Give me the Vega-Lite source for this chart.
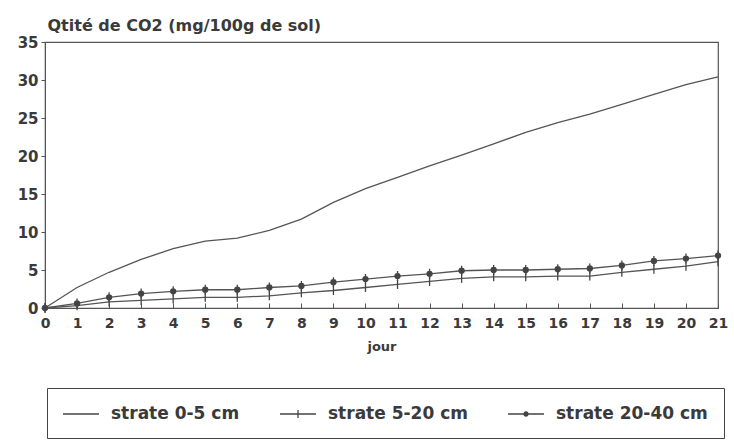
{
  "$schema": "https://vega.github.io/schema/vega-lite/v6.json",
  "width": 673,
  "height": 266,
  "autosize": {"type": "none"},
  "padding": {"left": 45, "top": 42, "right": 16, "bottom": 137},
  "background": "white",
  "config": {
    "view": {"stroke": "#555", "strokeWidth": 1.2},
    "font": "DejaVu Sans",
    "axis": {"grid": false, "domainColor": "#555", "tickColor": "#555", "labelColor": "#3a3a3a", "titleColor": "#3a3a3a", "labelFont": "DejaVu Sans", "labelFontWeight": "bold", "titleFont": "DejaVu Sans", "titleFontWeight": "bold"}
  },
  "data": {
    "values": [
      {"day": 0, "series": "strate 0-5 cm", "co2": 0},
      {"day": 1, "series": "strate 0-5 cm", "co2": 2.7},
      {"day": 2, "series": "strate 0-5 cm", "co2": 4.7},
      {"day": 3, "series": "strate 0-5 cm", "co2": 6.4},
      {"day": 4, "series": "strate 0-5 cm", "co2": 7.8},
      {"day": 5, "series": "strate 0-5 cm", "co2": 8.8},
      {"day": 6, "series": "strate 0-5 cm", "co2": 9.2},
      {"day": 7, "series": "strate 0-5 cm", "co2": 10.2},
      {"day": 8, "series": "strate 0-5 cm", "co2": 11.7},
      {"day": 9, "series": "strate 0-5 cm", "co2": 13.9},
      {"day": 10, "series": "strate 0-5 cm", "co2": 15.7},
      {"day": 11, "series": "strate 0-5 cm", "co2": 17.2},
      {"day": 12, "series": "strate 0-5 cm", "co2": 18.7},
      {"day": 13, "series": "strate 0-5 cm", "co2": 20.1},
      {"day": 14, "series": "strate 0-5 cm", "co2": 21.6},
      {"day": 15, "series": "strate 0-5 cm", "co2": 23.1},
      {"day": 16, "series": "strate 0-5 cm", "co2": 24.4},
      {"day": 17, "series": "strate 0-5 cm", "co2": 25.5},
      {"day": 18, "series": "strate 0-5 cm", "co2": 26.8},
      {"day": 19, "series": "strate 0-5 cm", "co2": 28.1},
      {"day": 20, "series": "strate 0-5 cm", "co2": 29.4},
      {"day": 21, "series": "strate 0-5 cm", "co2": 30.4},
      {"day": 0, "series": "strate 5-20 cm", "co2": 0},
      {"day": 1, "series": "strate 5-20 cm", "co2": 0.3},
      {"day": 2, "series": "strate 5-20 cm", "co2": 0.8},
      {"day": 3, "series": "strate 5-20 cm", "co2": 1.0},
      {"day": 4, "series": "strate 5-20 cm", "co2": 1.2},
      {"day": 5, "series": "strate 5-20 cm", "co2": 1.4},
      {"day": 6, "series": "strate 5-20 cm", "co2": 1.4},
      {"day": 7, "series": "strate 5-20 cm", "co2": 1.6},
      {"day": 8, "series": "strate 5-20 cm", "co2": 2.0},
      {"day": 9, "series": "strate 5-20 cm", "co2": 2.3},
      {"day": 10, "series": "strate 5-20 cm", "co2": 2.7},
      {"day": 11, "series": "strate 5-20 cm", "co2": 3.1},
      {"day": 12, "series": "strate 5-20 cm", "co2": 3.5},
      {"day": 13, "series": "strate 5-20 cm", "co2": 3.9},
      {"day": 14, "series": "strate 5-20 cm", "co2": 4.1},
      {"day": 15, "series": "strate 5-20 cm", "co2": 4.1},
      {"day": 16, "series": "strate 5-20 cm", "co2": 4.2},
      {"day": 17, "series": "strate 5-20 cm", "co2": 4.2},
      {"day": 18, "series": "strate 5-20 cm", "co2": 4.7},
      {"day": 19, "series": "strate 5-20 cm", "co2": 5.1},
      {"day": 20, "series": "strate 5-20 cm", "co2": 5.5},
      {"day": 21, "series": "strate 5-20 cm", "co2": 6.1},
      {"day": 0, "series": "strate 20-40 cm", "co2": 0},
      {"day": 1, "series": "strate 20-40 cm", "co2": 0.6},
      {"day": 2, "series": "strate 20-40 cm", "co2": 1.4},
      {"day": 3, "series": "strate 20-40 cm", "co2": 1.9},
      {"day": 4, "series": "strate 20-40 cm", "co2": 2.2},
      {"day": 5, "series": "strate 20-40 cm", "co2": 2.4},
      {"day": 6, "series": "strate 20-40 cm", "co2": 2.4},
      {"day": 7, "series": "strate 20-40 cm", "co2": 2.7},
      {"day": 8, "series": "strate 20-40 cm", "co2": 2.9},
      {"day": 9, "series": "strate 20-40 cm", "co2": 3.4},
      {"day": 10, "series": "strate 20-40 cm", "co2": 3.8},
      {"day": 11, "series": "strate 20-40 cm", "co2": 4.2},
      {"day": 12, "series": "strate 20-40 cm", "co2": 4.5},
      {"day": 13, "series": "strate 20-40 cm", "co2": 4.9},
      {"day": 14, "series": "strate 20-40 cm", "co2": 5.0},
      {"day": 15, "series": "strate 20-40 cm", "co2": 5.0},
      {"day": 16, "series": "strate 20-40 cm", "co2": 5.1},
      {"day": 17, "series": "strate 20-40 cm", "co2": 5.2},
      {"day": 18, "series": "strate 20-40 cm", "co2": 5.6},
      {"day": 19, "series": "strate 20-40 cm", "co2": 6.2},
      {"day": 20, "series": "strate 20-40 cm", "co2": 6.5},
      {"day": 21, "series": "strate 20-40 cm", "co2": 6.9}
    ]
  },
  "encoding": {
    "x": {
      "field": "day", "type": "quantitative",
      "scale": {"domain": [0, 21], "nice": false},
      "axis": {"values": [0,1,2,3,4,5,6,7,8,9,10,11,12,13,14,15,16,17,18,19,20,21], "title": "jour", "tickSize": -5, "labelPadding": 13, "labelFontSize": 14, "labelBaseline": "top", "titleFontSize": 13, "titlePadding": 10, "labelFlush": false, "labelOverlap": false}
    },
    "y": {
      "field": "co2", "type": "quantitative",
      "scale": {"domain": [0, 35], "nice": false},
      "axis": {"values": [0,5,10,15,20,25,30,35], "title": "Qtité de CO2 (mg/100g de sol)", "tickSize": 4, "labelPadding": 3, "labelFontSize": 15, "titleAngle": 0, "titleAlign": "left", "titleBaseline": "alphabetic", "titleX": 2, "titleY": -12, "titleFontSize": 16}
    }
  },
  "layer": [
    {
      "mark": {"type": "line", "color": "#555", "strokeWidth": 1.3},
      "encoding": {"detail": {"field": "series"}}
    },
    {
      "transform": [{"filter": "datum.series != 'strate 0-5 cm'"}],
      "mark": {"type": "point", "filled": true, "fill": "#444", "stroke": "#444", "strokeWidth": 1.3, "opacity": 1, "size": 100},
      "encoding": {
        "shape": {
          "field": "series", "type": "nominal",
          "scale": {"domain": ["strate 5-20 cm", "strate 20-40 cm"], "range": ["M0,-0.9L0,0.9", "M0,-1L0,1M-0.5,0A0.5,0.5,0,1,0,0.5,0A0.5,0.5,0,1,0,-0.5,0Z"]},
          "legend": null
        }
      }
    },
    {
      "transform": [{"filter": "datum.day < 0"}],
      "mark": {"type": "point", "filled": true, "fill": "#444", "opacity": 1},
      "encoding": {
        "shape": {
          "field": "series", "type": "nominal",
          "scale": {"domain": ["strate 0-5 cm", "strate 5-20 cm", "strate 20-40 cm"], "range": [
            "M-2,-0.07L2,-0.07L2,0.07L-2,0.07Z",
            "M-2,-0.07L2,-0.07L2,0.07L-2,0.07ZM-0.07,-0.45L0.07,-0.45L0.07,0.45L-0.07,0.45Z",
            "M-2,-0.07L2,-0.07L2,0.07L-2,0.07ZM-0.3,0A0.3,0.3,0,1,1,0.3,0A0.3,0.3,0,1,1,-0.3,0Z"
          ]},
          "legend": {
            "title": null, "orient": "none", "direction": "horizontal",
            "legendX": 2, "legendY": 346,
            "padding": 16, "strokeColor": "#444", "fillColor": "white",
            "symbolSize": 324, "symbolOffset": 8, "labelOffset": 20,
            "symbolFillColor": "#444", "symbolOpacity": 1,
            "labelFont": "DejaVu Sans", "labelFontWeight": "bold", "labelFontSize": 17, "labelColor": "#3a3a3a",
            "columnPadding": 37, "labelLimit": 300
          }
        }
      }
    }
  ],
  "resolve": {"scale": {"shape": "independent"}, "legend": {"shape": "independent"}}
}
